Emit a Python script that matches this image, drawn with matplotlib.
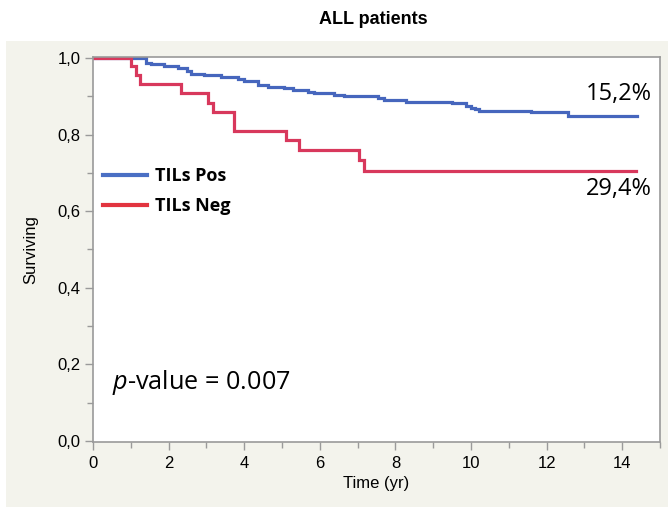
import matplotlib
matplotlib.use("Agg")
import matplotlib.pyplot as plt
from matplotlib.patches import Rectangle
from matplotlib.lines import Line2D
from matplotlib.ticker import MultipleLocator, FuncFormatter

plt.rcParams["mathtext.fontset"] = "custom"
plt.rcParams["mathtext.it"] = "Open Sans:italic"
plt.rcParams["mathtext.rm"] = "Open Sans"

# Data
pos_time = [0, 1.40, 1.53, 1.88, 2.25, 2.50, 2.60, 2.94, 3.38, 3.83, 4.00, 4.36, 4.62,
            5.05, 5.30, 5.68, 5.85, 6.38, 6.64, 7.54, 7.70, 8.28, 9.50, 9.87, 10.00,
            10.10, 10.20, 11.60, 12.56, 14.40]
pos_surv = [1.000, 0.988, 0.985, 0.979, 0.975, 0.966, 0.959, 0.955, 0.950, 0.946, 0.940,
            0.931, 0.925, 0.921, 0.917, 0.912, 0.908, 0.904, 0.900, 0.896, 0.891, 0.886,
            0.882, 0.876, 0.870, 0.866, 0.862, 0.858, 0.849, 0.849]
neg_time = [0, 1.00, 1.14, 1.25, 2.33, 3.04, 3.17, 3.73, 5.10, 5.45, 7.04, 7.17, 14.37]
neg_surv = [1.000, 0.980, 0.957, 0.933, 0.908, 0.884, 0.859, 0.810, 0.786, 0.760, 0.733,
            0.706, 0.706]
series_names = ["TILs Pos", "TILs Neg"]
end_labels = ["15,2%", "29,4%"]
p_text = "0.007"

W, H = 668, 507
fig = plt.figure(figsize=(W / 100, H / 100), dpi=100, facecolor="white")

# beige panel
fig.patches.append(Rectangle((6 / W, 0), (W - 6) / W, (H - 41) / H, transform=fig.transFigure,
                             facecolor="#f3f3ec", edgecolor="none", zorder=-10))

fig.text(373 / W, 1 - 20 / H, "ALL patients", ha="center", va="center",
         fontsize=13, fontweight="bold", family="Liberation Sans")

ax = fig.add_axes([93 / W, (H - 442) / H, (660 - 93) / W, (442 - 57) / H])
ax.set_zorder(5)
ax.set_facecolor("white")
blue = "#4666bd"
red = "#d8385c"
ax.step(pos_time, pos_surv, where="post", color=blue, lw=2.3, solid_joinstyle="miter")
ax.step(neg_time, neg_surv, where="post", color=red, lw=2.3, solid_joinstyle="miter")

ax.set_xlim(0, 15)
ax.set_ylim(-0.003, 1.003)
ax.xaxis.set_major_locator(MultipleLocator(2))
ax.xaxis.set_minor_locator(MultipleLocator(1))
ax.yaxis.set_major_locator(MultipleLocator(0.2))
ax.yaxis.set_minor_locator(MultipleLocator(0.1))
ax.yaxis.set_major_formatter(FuncFormatter(lambda v, p: f"{v:.1f}".replace(".", ",")))
ax.xaxis.set_major_formatter(FuncFormatter(lambda v, p: f"{v:.0f}"))
for s in ax.spines.values():
    s.set_color("#9a9a9a")
    s.set_linewidth(1.2)
ax.tick_params(which="major", length=6, color="#9a9a9a", width=1, labelsize=12, pad=3)
ax.tick_params(axis="x", which="major", pad=4)
ax.tick_params(which="minor", length=4, color="#9a9a9a", width=1)
for lab in ax.get_xticklabels() + ax.get_yticklabels():
    lab.set_family("Liberation Sans")
ax.set_xlabel("Time (yr)", fontsize=12, family="Liberation Sans", labelpad=4)
ax.set_ylabel("Surviving", fontsize=12, family="Liberation Sans", labelpad=14)

# end annotations
ax.text(14.79, 0.875, end_labels[0], ha="right", va="bottom", fontsize=17, family="Open Sans")
ax.text(14.79, 0.69, end_labels[1], ha="right", va="top", fontsize=17, family="Open Sans")

# p-value
ax.text(0.5, 0.153, r"$\it{p}$-value = " + p_text, fontsize=18.2, family="Open Sans",
        va="center", ha="left")

# legend
handles = [Line2D([], [], color="#4a6fc4", lw=3), Line2D([], [], color="#e2343f", lw=3)]
leg = ax.legend(handles, series_names, loc="upper left", bbox_to_anchor=(-0.0106, 0.756),
                frameon=False, handlelength=2.4, handletextpad=0.45, labelspacing=0.66,
                prop={"family": "Open Sans", "weight": "bold", "size": 13})

fig.savefig("out.png", dpi=100, facecolor="white")
